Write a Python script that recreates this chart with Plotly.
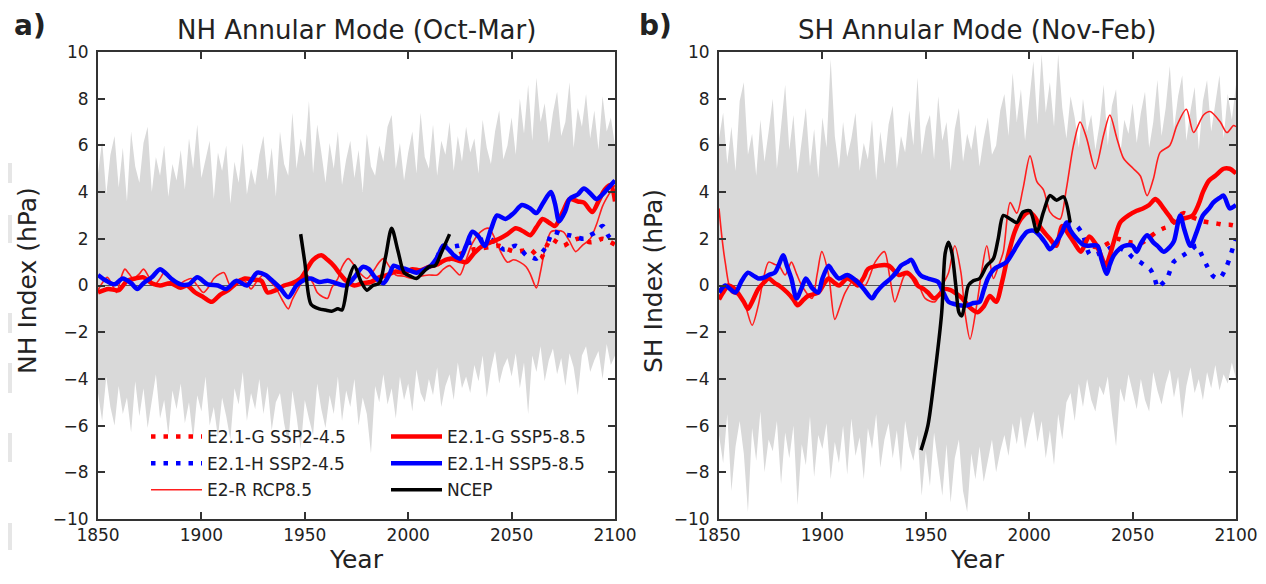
import plotly.graph_objects as go

# ---------------- data ----------------
env_years = list(range(1850, 2101, 2))

nh_upper = [4.8, 6.2, 3.9, 5.6, 6.4, 4.2, 5.9, 3.6, 6.6, 5.1,
            4.4, 6.1, 6.8, 4.0, 5.5, 4.7, 6.0, 3.8, 5.2, 4.5,
            5.8, 4.1, 6.3, 5.0, 6.9, 4.6, 5.4, 6.2, 3.7, 5.7,
            4.9, 6.0, 3.5, 5.3, 4.4, 6.1, 3.9, 5.0, 4.3, 5.6,
            6.4, 4.5, 5.9, 3.8, 6.6, 5.2, 4.7, 7.4, 5.0, 6.3,
            5.5, 7.9, 4.8, 6.9, 5.7, 4.4, 6.1, 5.0, 6.6, 4.3,
            5.4, 6.2, 4.6, 5.8, 4.0, 6.5, 5.1, 4.7, 6.0, 5.3,
            6.8, 7.3, 5.0, 6.1, 4.5, 5.7, 6.6, 4.8, 7.4, 5.5,
            5.0, 6.9, 4.7, 6.2, 5.6, 7.0, 4.9, 6.4, 5.3, 6.8,
            5.7, 6.3, 4.8, 7.1, 5.9, 5.2, 6.6, 7.5, 5.4, 6.0,
            7.2, 5.6, 8.0, 6.5, 8.6, 6.2, 8.9, 7.0, 7.8, 6.1,
            7.4, 8.3, 6.4, 7.0, 8.7, 5.9, 7.6, 6.8, 8.2, 6.3,
            7.5, 5.8, 8.1, 6.6, 7.2, 6.0]
nh_lower = [-4.6, -5.8, -3.9, -5.2, -6.0, -4.3, -5.5, -4.8, -6.3, -4.1,
            -5.6, -4.4, -6.1, -5.0, -3.8, -5.7, -4.9, -6.4, -4.5, -5.3,
            -4.2, -5.9, -5.0, -6.6, -4.7, -5.4, -3.9, -6.0, -5.2, -6.5,
            -4.8, -5.6, -6.6, -4.4, -5.1, -3.7, -5.8, -4.6, -5.3, -4.0,
            -5.5, -4.3, -6.2, -5.0, -4.6, -5.9, -6.8, -4.5, -5.6, -7.0,
            -4.9, -5.7, -6.4, -4.2, -5.3, -6.1, -4.7, -5.5, -3.9, -5.8,
            -4.5, -5.2, -4.0, -6.0, -4.8, -5.5, -7.2, -4.3, -5.0, -3.8,
            -5.1, -4.4, -5.7, -3.9, -4.9, -4.2, -5.4, -3.6, -4.6, -5.0,
            -4.0, -4.7, -3.5, -5.2, -4.3, -3.8, -4.9, -3.3, -4.4, -3.9,
            -4.6, -3.4, -4.1, -3.0, -4.8, -3.6, -2.8, -4.2, -3.5, -3.1,
            -3.9, -2.9, -4.4, -3.3, -5.5, -3.0, -3.7, -2.6, -4.1, -3.2,
            -2.7, -3.8, -3.1, -4.3, -2.9, -3.5, -4.7, -3.0, -2.6, -3.7,
            -3.2, -2.8, -4.0, -2.5, -3.4, -3.0]

sh_upper = [6.3, 7.4, 5.2, 6.8, 4.9, 7.9, 8.7, 5.6, 6.5, 4.7,
            7.1, 5.3, 6.6, 8.0, 5.0, 6.9, 8.6, 5.8, 7.3, 4.8,
            6.2, 7.6, 5.1, 6.7, 4.6, 7.2, 5.9, 9.7, 6.4, 5.0,
            7.0, 5.5, 6.3, 7.4, 4.9, 6.1, 5.4, 7.1, 4.5, 6.6,
            5.2, 6.9, 7.7, 5.0, 6.4, 5.7, 7.5, 6.0, 8.9, 5.6,
            6.8, 7.3, 5.4, 8.1, 6.2, 7.0, 4.9, 6.7, 7.6, 5.3,
            6.5, 5.8, 6.9, 5.1, 6.3, 7.2, 5.6, 6.0, 7.5, 8.2,
            6.4, 9.1, 7.0, 8.4, 6.2, 7.8, 9.6, 6.9, 9.9, 7.4,
            8.7, 6.8, 9.9, 7.6, 6.3, 8.1, 7.2, 5.9, 8.0, 6.6,
            7.3, 5.8, 6.9, 8.6, 6.0, 7.7, 8.4, 5.6, 7.1, 6.5,
            7.8, 6.1, 7.4, 8.3, 5.9, 7.0, 8.8, 6.4, 7.6, 9.4,
            6.7, 8.1, 9.0, 6.2, 7.5, 8.5, 5.8, 7.9, 8.8, 6.6,
            7.7, 9.0, 6.3, 8.2, 7.1, 8.6]
sh_lower = [-6.4, -7.6, -5.5, -8.8, -6.9, -5.8, -7.2, -9.7, -6.1, -7.5,
            -5.4, -8.0, -6.6, -7.1, -5.8, -8.5, -6.3, -7.4, -6.0, -9.4,
            -6.8, -7.7, -5.6, -8.2, -6.4, -7.0, -5.9, -8.3, -6.7, -7.6,
            -6.0, -8.1, -5.7, -7.3, -6.5, -8.3, -6.1, -7.0, -5.5, -7.8,
            -6.6, -5.9, -7.4, -6.2, -8.0, -5.8, -6.9, -7.5, -6.4, -9.0,
            -7.1, -8.6, -6.3, -7.7, -9.0, -6.8, -9.3, -7.4, -6.6, -8.8,
            -9.7, -7.2, -8.3, -6.9, -8.4, -7.5, -6.6, -8.0, -7.1, -6.4,
            -7.3, -5.9, -6.8, -5.6, -7.0, -6.1, -5.4, -6.7, -5.8, -7.4,
            -6.2, -7.7, -5.5, -6.6, -5.0, -4.6, -5.8, -4.2, -5.2, -4.0,
            -4.9, -5.4, -4.3, -4.7, -3.9, -5.5, -6.9, -4.4, -5.0, -3.8,
            -4.6, -5.3, -4.0, -4.9, -5.4, -3.7, -4.5, -5.1, -4.2, -3.6,
            -4.8, -3.9, -5.7, -4.3, -3.5, -4.6, -4.0, -4.9, -3.7, -4.4,
            -3.4, -4.5, -3.8, -4.2, -3.3, -4.0]

# NH (Oct-Mar)
nh_g585_yr = [1850, 1855, 1860, 1864, 1868, 1872, 1876, 1880, 1885, 1890, 1893, 1897, 1901, 1905,
              1909, 1913, 1917, 1921, 1925, 1929, 1932, 1936, 1940, 1944, 1948, 1951, 1954, 1958,
              1961, 1964, 1967, 1970, 1974, 1978, 1982, 1986, 1990, 1994, 1998, 2002, 2006, 2010,
              2014, 2018, 2021, 2025, 2028, 2032, 2036, 2040, 2044, 2048, 2052, 2056, 2059, 2062,
              2065, 2068, 2071, 2075, 2078, 2082, 2085, 2089, 2092, 2095, 2098, 2100]
nh_g585 = [-0.3, -0.15, -0.2, 0.2, 0.3, 0.35, 0.1, 0.0, 0.1, -0.1, 0.0, -0.3, -0.5, -0.7,
           -0.4, -0.2, 0.1, 0.3, 0.25, 0.2, -0.3, -0.2, 0.0, 0.1, 0.3, 0.7, 1.1, 1.3,
           1.1, 0.85, 0.5, 0.2, 0.0, 0.1, 0.15, 0.35, 0.45, 0.6, 0.55, 0.7, 0.65, 0.8,
           0.9, 1.1, 1.15, 1.05, 1.0, 1.4, 1.7, 1.85, 2.0, 2.2, 2.45, 2.3, 2.15, 2.5,
           2.85, 2.7, 2.55, 3.2, 3.7, 3.6, 3.55, 3.15, 3.6, 4.1, 4.3, 3.6]

nh_h585_yr = [1850, 1854, 1858, 1862, 1866, 1869, 1872, 1876, 1880, 1883, 1886, 1890, 1894, 1898,
              1903, 1908, 1912, 1917, 1922, 1927, 1931, 1935, 1938, 1942, 1946, 1950, 1953, 1957,
              1961, 1965, 1970, 1974, 1978, 1981, 1984, 1988, 1991, 1993, 1996, 1999, 2004, 2008,
              2011, 2014, 2017, 2020, 2022, 2025, 2028, 2031, 2034, 2037, 2040, 2043, 2047, 2051,
              2055, 2059, 2062, 2065, 2069, 2071, 2073, 2076, 2078, 2082, 2085, 2088, 2091, 2094,
              2097, 2100]
nh_h585 = [0.45, 0.2, 0.05, 0.3, 0.1, -0.15, 0.1, 0.35, 0.7, 0.5, 0.25, 0.05, 0.05, 0.35,
           0.05, 0.0, -0.15, 0.2, 0.0, 0.55, 0.45, 0.15, -0.1, -0.5, 0.0, 0.25, 0.3, 0.15,
           0.2, 0.1, 0.0, 0.35, 0.8, 0.7, 0.35, 0.1, 0.5, 0.85, 0.75, 0.7, 0.55, 0.7,
           0.85, 1.2, 1.7, 1.5, 1.3, 1.15, 1.7, 2.3, 2.1, 1.7, 2.4, 3.0, 2.85, 3.1,
           3.45, 3.3, 3.1, 3.5, 4.0, 3.5, 2.75, 3.2, 3.7, 3.9, 4.15, 3.95, 3.7, 3.9,
           4.2, 4.5]

nh_r85_yr = [1850, 1852, 1854.5, 1857, 1859, 1861, 1863, 1865, 1867, 1870, 1872, 1875, 1877, 1880,
             1882, 1885, 1888, 1892, 1895, 1898, 1901, 1904, 1906, 1909, 1911, 1914, 1917, 1919,
             1922, 1924, 1927, 1930, 1933, 1936, 1939, 1942, 1944, 1947, 1949, 1951, 1954, 1956,
             1959, 1961, 1963, 1966, 1968, 1971, 1974, 1977, 1980, 1983, 1986, 1988, 1991, 1994,
             1998, 2002, 2006, 2010, 2014, 2017, 2020, 2023, 2025, 2028, 2031, 2035, 2039, 2042,
             2045, 2048, 2051, 2054, 2057, 2059, 2062, 2064, 2066, 2069, 2072, 2075, 2078, 2081,
             2084, 2088, 2091, 2094, 2097, 2100]
nh_r85 = [-0.2, 0.1, 0.35, 0.0, -0.3, 0.3, 0.7, 0.5, 0.3, 0.5, 0.7, 0.3, 0.0, 0.3,
          0.55, 0.3, 0.0, 0.2, 0.3, 0.0, -0.3, 0.0, 0.3, 0.5, 0.55, 0.0, 0.2, 0.3,
          0.1, -0.15, 0.2, 0.45, 0.2, -0.1, -0.6, -1.0, -0.6, -0.1, 0.2, 0.45, 0.1, -0.3,
          -0.5, -0.55, -0.1, 0.3, 0.8, 1.15, 0.85, 0.5, 0.3, 0.6, 1.0, 1.15, 0.8, 0.45,
          0.4, 0.3, 0.4, 0.45, 0.45, 0.7, 0.85, 0.6, 0.45, 1.1, 1.8, 2.3, 2.45, 2.0,
          1.4, 1.0, 1.1, 1.0, 0.8, 0.5, -0.1, 0.6, 1.5, 2.3, 2.35, 2.3, 1.9, 1.45,
          1.7, 2.0, 2.6, 3.4, 3.9, 4.3]

nh_g245_yr = [2014, 2018, 2021, 2024, 2028, 2032, 2036, 2040, 2044, 2048, 2052, 2056, 2059, 2062,
              2064, 2067, 2069, 2072, 2075, 2078, 2082, 2085, 2088, 2091, 2094, 2097, 2100]
nh_g245 = [0.9, 1.1, 1.15, 1.3, 1.45, 1.55, 1.6, 1.65, 1.7, 1.55, 1.45, 1.5, 1.55, 1.3,
           1.15, 1.7, 2.0, 1.85, 1.7, 1.85, 2.0, 1.95, 1.85, 1.9, 2.0, 1.9, 1.75]

nh_h245_yr = [2014, 2017, 2020, 2024, 2028, 2031, 2035, 2039, 2043, 2046, 2049, 2052, 2055, 2057,
              2060, 2062, 2065, 2067, 2070, 2074, 2078, 2082, 2085, 2088, 2091, 2094, 2097, 2100]
nh_h245 = [1.2, 1.7, 1.65, 1.7, 1.8, 1.85, 1.95, 2.0, 1.8, 1.55, 1.6, 1.7, 1.5, 1.3,
           1.2, 1.15, 1.45, 1.7, 2.3, 2.2, 2.15, 2.05, 2.0, 2.15, 2.3, 2.55, 2.1, 1.85]

nh_ncep_yr = [1948, 1950, 1953, 1957, 1960, 1963, 1966, 1968, 1971, 1974, 1977, 1980, 1983,
              1986, 1989, 1992, 1995, 1998, 2001, 2004, 2007, 2010, 2013, 2016, 2020]
nh_ncep = [2.2, 1.0, -0.8, -1.0, -1.05, -1.1, -1.0, -1.05, 0.2, 0.85, 0.2, -0.2, 0.0,
           0.1, 1.2, 2.45, 1.5, 0.55, 0.4, 0.3, 0.55, 0.8, 0.85, 1.4, 2.2]

# SH (Nov-Feb)
sh_g585_yr = [1850, 1852, 1854.5, 1857, 1859, 1862, 1864, 1866, 1869, 1872, 1874, 1877, 1879, 1883,
              1886, 1888, 1891, 1893, 1898, 1901, 1903, 1906, 1908, 1912, 1915, 1917, 1920, 1922,
              1927, 1932, 1935, 1937, 1941, 1944, 1946, 1949, 1951, 1954, 1957, 1959, 1962, 1964,
              1967, 1969, 1972, 1975, 1978, 1981, 1984, 1987, 1989, 1991, 1993, 1996, 2000, 2003,
              2005, 2008, 2010, 2013, 2016, 2019, 2022, 2025, 2029, 2032, 2034, 2037, 2039, 2041,
              2044, 2048, 2052, 2055, 2058, 2061, 2063, 2065, 2068, 2070, 2074, 2079, 2082, 2084,
              2087, 2090, 2094, 2097, 2100]
sh_g585 = [-0.6, -0.3, 0.0, -0.1, -0.3, -0.7, -1.0, -0.7, -0.15, 0.15, 0.3, 0.1, 0.0, -0.3,
           -0.6, -0.85, -0.6, -0.45, -0.3, 0.1, 0.3, 0.1, 0.0, 0.3, 0.15, 0.0, 0.35, 0.7,
           0.85, 0.85, 0.6, 0.45, 0.55, 0.3, 0.0, -0.15, -0.3, -0.55, -0.35, -0.15, -0.2, -0.3,
           -0.5, -0.7, -1.0, -1.15, -0.9, -0.45, -0.7, 0.2, 1.0, 1.7, 2.3, 2.85, 3.15, 2.9,
           2.55, 2.2, 2.0, 1.7, 2.55, 2.2, 1.8, 1.45, 2.1, 1.8, 1.45, 0.85, 1.3, 1.9,
           2.7, 3.0, 3.2, 3.3, 3.45, 3.7, 3.55, 3.3, 2.95, 2.7, 2.85, 3.0, 3.5, 4.0,
           4.5, 4.7, 5.0, 5.0, 4.8]

sh_h585_yr = [1850, 1853, 1856, 1858, 1861, 1864, 1867, 1869, 1872, 1874, 1877, 1879, 1881, 1883,
              1885, 1887.5, 1890, 1892, 1895, 1898, 1900, 1903, 1905, 1908, 1912, 1917, 1920, 1924,
              1926, 1929, 1933, 1936, 1938, 1941, 1943, 1946, 1948, 1951, 1956, 1958, 1961, 1964,
              1966, 1970, 1973, 1976, 1978, 1980, 1983, 1986, 1989, 1992, 1994, 1997, 1999, 2002,
              2005, 2008, 2010, 2013, 2016, 2018, 2020, 2023, 2026, 2028, 2033, 2035, 2037.5, 2039,
              2041, 2044, 2046, 2050, 2052, 2054, 2057, 2060, 2062, 2065, 2068, 2070, 2073, 2075,
              2078, 2081, 2084, 2087, 2089, 2092, 2094, 2097, 2100]
sh_h585 = [-0.3, 0.0, -0.2, -0.3, 0.2, 0.55, 0.4, 0.3, 0.35, 0.45, 0.55, 0.9, 1.3, 0.8,
           0.3, -0.55, -0.1, 0.3, -0.1, -0.3, 0.3, 0.85, 0.6, 0.3, 0.45, 0.15, -0.15, -0.55,
           -0.3, 0.0, 0.3, 0.6, 0.85, 1.0, 1.1, 0.6, 0.4, 0.3, 0.15, -0.2, -0.7, -0.8,
           -0.85, -0.85, -0.75, -0.7, -0.2, 0.3, 0.7, 0.85, 1.0, 1.4, 1.7, 2.1, 2.3, 2.35,
           2.15, 1.8, 1.55, 1.85, 2.3, 2.7, 2.35, 2.0, 1.75, 1.7, 1.7, 1.1, 0.5, 0.9,
           1.3, 1.6, 1.7, 1.7, 1.45, 1.8, 2.15, 1.85, 1.7, 1.45, 1.65, 1.9, 3.0, 2.4,
           1.7, 2.3, 3.0, 3.3, 3.55, 3.75, 3.85, 3.3, 3.45]

sh_r85_yr = [1850, 1851.5, 1853, 1856, 1859, 1862.6, 1866, 1869, 1871.5, 1874, 1877, 1879, 1882,
             1885, 1887.5, 1890, 1895, 1897.5, 1899.7, 1903, 1906, 1908.5, 1911, 1916, 1920.6,
             1925.5, 1930, 1932.5, 1935, 1937.5, 1940, 1945, 1949.7, 1954.5, 1958, 1961, 1964,
             1967, 1969, 1971.4, 1974.6, 1977, 1979.5, 1982.7, 1985, 1987.5, 1990.8, 1994, 1997,
             2000.4, 2003.7, 2006.9, 2010, 2013, 2015, 2018, 2021.4, 2024.6, 2027.8, 2031.9, 2036,
             2039, 2042.4, 2045.6, 2050.4, 2053.7, 2057, 2060, 2063.3, 2068, 2071.4, 2076, 2079.5,
             2084.3, 2087.5, 2092.4, 2095.6, 2098.8, 2100]
sh_r85 = [3.3, 2.0, 1.0, -0.3, -0.4, -0.85, -1.7, -0.85, 0.3, 1.0, 0.9, 0.85, 0.45,
          1.0, 0.5, 0.0, -0.55, 0.5, 1.45, 0.45, -1.45, -0.9, -0.3, 0.3, 0.0,
          1.0, 1.45, 0.4, -0.7, -0.1, 0.45, 0.3, -0.55, -0.7, 0.0, 0.55, 1.7,
          0.55, -1.2, -2.3, -0.85, 0.6, 1.7, 0.3, 0.8, 1.45, 3.55, 3.1, 4.15,
          5.55, 4.45, 4.1, 3.15, 2.9, 2.85, 4.15, 6.0, 7.0, 6.3, 5.0, 6.45,
          7.3, 6.3, 5.45, 5.0, 4.7, 3.85, 4.55, 5.7, 6.0, 6.85, 7.55, 6.55,
          7.3, 7.45, 7.0, 6.55, 6.85, 6.8]

sh_g245_yr = [2016, 2020, 2023, 2026, 2029.5, 2033, 2036, 2039, 2042.4, 2045, 2048.8, 2052, 2055,
              2058, 2061.7, 2065, 2068, 2071, 2074.6, 2078, 2081, 2084, 2087.5, 2091, 2094, 2097,
              2100]
sh_g245 = [2.55, 2.2, 2.0, 1.85, 1.7, 1.65, 1.7, 1.85, 2.0, 1.95, 1.85, 1.85, 1.85,
           2.05, 2.3, 2.45, 2.55, 2.85, 3.1, 2.95, 2.85, 2.75, 2.7, 2.65, 2.6, 2.6,
           2.55]

sh_h245_yr = [2018, 2020, 2023, 2026, 2029.5, 2033, 2036, 2039, 2042.4, 2045, 2047.3, 2050, 2053.7,
              2056, 2058.5, 2060.5, 2062.3, 2064, 2066.6, 2069.8, 2072, 2074.6, 2078, 2081, 2083.5,
              2085.9, 2089, 2092, 2095.6, 2098.8, 2100]
sh_h245 = [2.7, 2.65, 2.55, 2.15, 1.3, 1.35, 1.45, 1.6, 1.7, 1.55, 1.45, 1.2, 1.0,
           0.85, 0.7, 0.35, -0.1, 0.05, 0.3, 1.0, 1.15, 1.3, 1.5, 1.7, 1.3,
           0.85, 0.4, 0.3, 0.85, 1.7, 2.0]

sh_ncep_yr = [1947.7, 1951, 1954.5, 1957.7, 1959.4, 1961, 1962.6, 1964.5, 1966, 1967.4, 1969,
              1970.6, 1973, 1976, 1979.5, 1982.7, 1985, 1987.5, 1990.8, 1994, 1997, 2000.4,
              2003.7, 2006.9, 2010, 2013.3, 2016.6, 2019.8]
sh_ncep = [-7.05, -6.0, -3.7, -1.15, 1.4, 1.85, 1.4, 0.0, -1.15, -1.3, -0.7,
           0.0, 0.2, 0.3, 0.85, 1.15, 2.0, 3.0, 2.85, 2.7, 3.15, 3.2,
           2.3, 3.15, 3.85, 3.65, 3.8, 2.7]

x_range = [1850, 2100]
x_ticks = [1850, 1900, 1950, 2000, 2050, 2100]
y_ticks = [-10, -8, -6, -4, -2, 0, 2, 4, 6, 8, 10]

# ---------------- figure ----------------
FONT = "DejaVu Sans"
RED = "#ff0000"
BLUE = "#0000ff"
GREY = "#d9d9d9"

# the page body keeps its 8px margin, so the figure is 16px smaller than the window
OFF = 8
W, H = 1266 - 2 * OFF, 584 - 2 * OFF


def px(x):  # window pixel -> paper x
    return (x - OFF) / W


def py(y):  # window pixel -> paper y
    return (H - (y - OFF)) / H


fig = go.Figure()

rank_of = {"E2.1-G SSP2-4.5": 1, "E2.1-H SSP2-4.5": 2, "E2-R RCP8.5": 3,
           "E2.1-G SSP5-8.5": 1, "E2.1-H SSP5-8.5": 2, "NCEP": 3}


def panel(n, upper, lower, series):
    xa = "x" if n == 1 else "x2"
    ya = "y" if n == 1 else "y2"
    fig.add_trace(go.Scatter(x=env_years, y=upper, xaxis=xa, yaxis=ya, mode="lines",
                             line=dict(width=0, color=GREY), showlegend=False, hoverinfo="skip"))
    fig.add_trace(go.Scatter(x=env_years, y=lower, xaxis=xa, yaxis=ya, mode="lines",
                             line=dict(width=0, color=GREY), fill="tonexty", fillcolor=GREY,
                             showlegend=False, hoverinfo="skip"))
    fig.add_trace(go.Scatter(x=x_range, y=[0, 0], xaxis=xa, yaxis=ya, mode="lines",
                             line=dict(width=1.2, color="#555555"), showlegend=False,
                             hoverinfo="skip"))
    for name, xs, ys, color, width, dash, leg in series:
        fig.add_trace(go.Scatter(
            x=xs, y=ys, xaxis=xa, yaxis=ya, mode="lines", name=name,
            line=dict(color=color, width=width, dash=dash, shape="spline", smoothing=0.8),
            showlegend=(n == 1), legend=leg, legendgroup=name, legendrank=rank_of[name]))


dots = "4.5px,8px"
panel(1, nh_upper, nh_lower, [
    ("E2-R RCP8.5", nh_r85_yr, nh_r85, "rgb(255,30,30)", 1.6, "solid", "legend"),
    ("E2.1-G SSP2-4.5", nh_g245_yr, nh_g245, RED, 4.5, dots, "legend"),
    ("E2.1-H SSP2-4.5", nh_h245_yr, nh_h245, BLUE, 4.5, dots, "legend"),
    ("E2.1-G SSP5-8.5", nh_g585_yr, nh_g585, RED, 4.5, "solid", "legend2"),
    ("E2.1-H SSP5-8.5", nh_h585_yr, nh_h585, BLUE, 4.5, "solid", "legend2"),
    ("NCEP", nh_ncep_yr, nh_ncep, "black", 3.5, "solid", "legend2"),
])
panel(2, sh_upper, sh_lower, [
    ("E2-R RCP8.5", sh_r85_yr, sh_r85, "rgb(255,30,30)", 1.6, "solid", "legend"),
    ("E2.1-G SSP2-4.5", sh_g245_yr, sh_g245, RED, 4.5, dots, "legend"),
    ("E2.1-H SSP2-4.5", sh_h245_yr, sh_h245, BLUE, 4.5, dots, "legend"),
    ("E2.1-G SSP5-8.5", sh_g585_yr, sh_g585, RED, 4.5, "solid", "legend2"),
    ("E2.1-H SSP5-8.5", sh_h585_yr, sh_h585, BLUE, 4.5, "solid", "legend2"),
    ("NCEP", sh_ncep_yr, sh_ncep, "black", 3.5, "solid", "legend2"),
])

tickfont = dict(family=FONT, size=17, color="#222222")
xcommon = dict(range=x_range, tickvals=x_ticks, ticks="inside", ticklen=7, tickwidth=1.5,
               tickcolor="#333333", mirror="ticks", showline=True, linecolor="#333333",
               linewidth=2, showgrid=False, zeroline=False, tickfont=tickfont,
               layer="above traces", automargin=False)
ycommon = dict(range=[-10, 10], tickvals=y_ticks, ticks="inside", ticklen=7, tickwidth=1.5,
               tickcolor="#333333", mirror="ticks", showline=True, linecolor="#333333",
               linewidth=2, showgrid=False, zeroline=False, tickfont=tickfont,
               layer="above traces", ticklabelstandoff=4, automargin=False)

ydom = [py(519), py(52)]
legend_common = dict(y=py(419), xanchor="left", yanchor="top",
                     bgcolor="rgba(0,0,0,0)", font=dict(family=FONT, size=17, color="#222222"),
                     traceorder="grouped", tracegroupgap=1.5, itemwidth=51)
fig.update_layout(
    width=W, height=H,
    margin=dict(l=0, r=0, t=0, b=0, autoexpand=False),
    paper_bgcolor="white", plot_bgcolor="white",
    font=dict(family=FONT, color="#222222"),
    xaxis=dict(domain=[px(98), px(615)], anchor="y", **xcommon),
    yaxis=dict(domain=ydom, anchor="x", **ycommon),
    xaxis2=dict(domain=[px(719), px(1236)], anchor="y2", **xcommon),
    yaxis2=dict(domain=ydom, anchor="x2", **ycommon),
    legend=dict(x=px(146), **legend_common),
    legend2=dict(x=px(386), **legend_common),
    showlegend=True,
)

ann = [
    dict(text="<b>a)</b>", x=px(12), y=py(25), xanchor="left", yanchor="middle", size=28),
    dict(text="<b>b)</b>", x=px(637), y=py(25), xanchor="left", yanchor="middle", size=28),
    dict(text="NH Annular Mode (Oct-Mar)", x=px(356.5), y=py(30), xanchor="center",
         yanchor="middle", size=26),
    dict(text="SH Annular Mode (Nov-Feb)", x=px(977.5), y=py(30), xanchor="center",
         yanchor="middle", size=26),
    dict(text="Year", x=px(356.5), y=0, xanchor="center", yanchor="bottom", size=25),
    dict(text="Year", x=px(977.5), y=0, xanchor="center", yanchor="bottom", size=25),
]
for a in ann:
    fig.add_annotation(text=a["text"], x=a["x"], y=a["y"], xref="paper", yref="paper",
                       xanchor=a["xanchor"], yanchor=a["yanchor"], showarrow=False,
                       font=dict(family=FONT, size=a["size"], color="#222222"))
for label, xp in [("NH Index (hPa)", 27), ("SH Index (hPa)", 653)]:
    fig.add_annotation(text=label, x=px(xp), y=py(281), xref="paper", yref="paper",
                       textangle=-90, xanchor="center", yanchor="middle", showarrow=False,
                       font=dict(family=FONT, size=25, color="#222222"))

# grey crop remnants at the left edge of the picture
for y0, y1 in [(163, 183), (215, 243), (313, 333), (363, 393), (433, 462), (523, 550)]:
    fig.add_shape(type="rect", xref="paper", yref="paper", x0=px(OFF), x1=px(12),
                  y0=py(y1), y1=py(y0), line=dict(width=0), fillcolor="#e6e6e6",
                  layer="below")

fig.write_html("out.html")
